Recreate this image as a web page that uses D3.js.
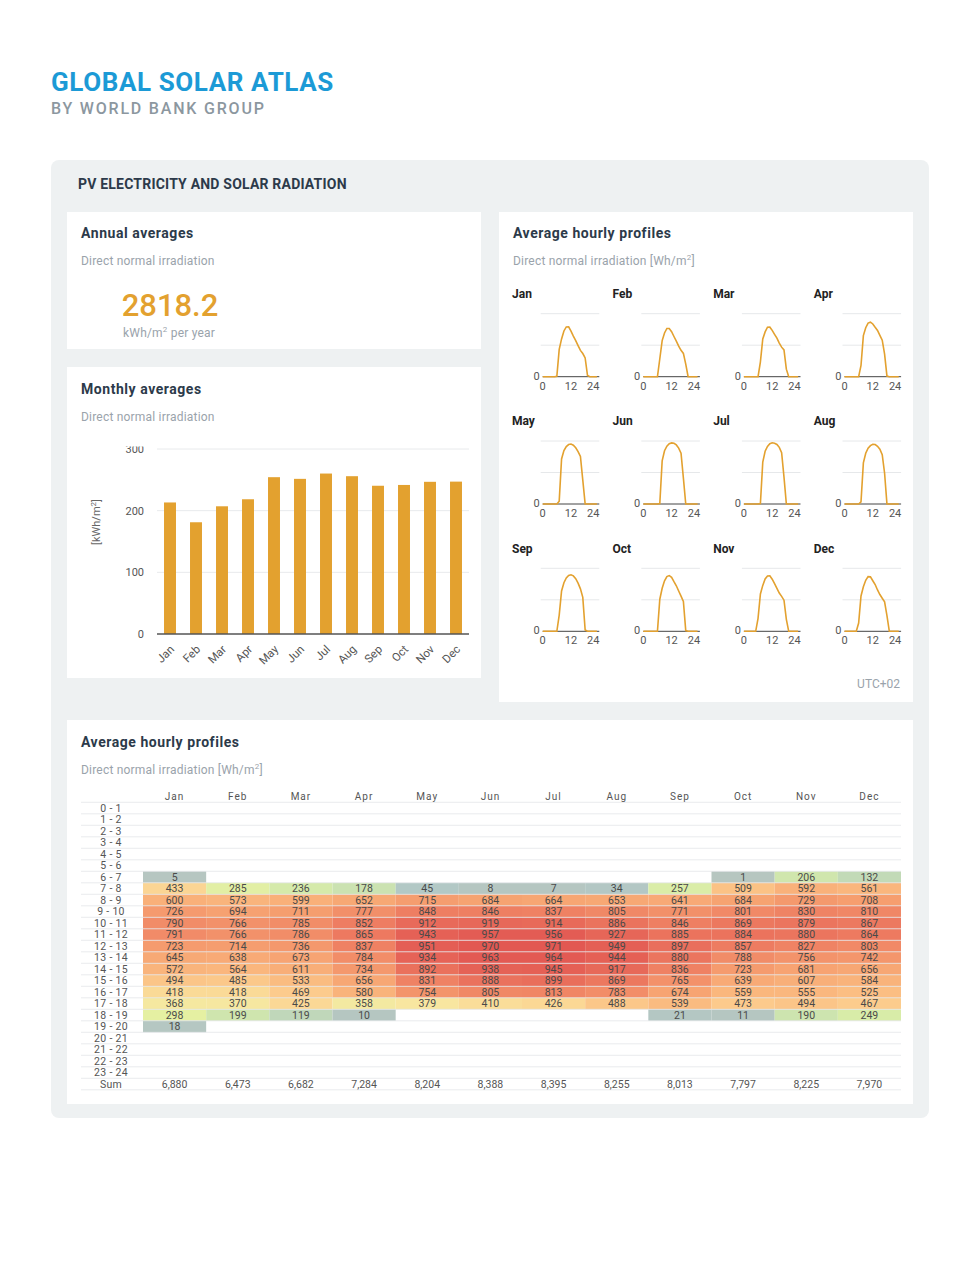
<!DOCTYPE html>
<html>
<head>
<meta charset="utf-8">
<script src="https://cdn.jsdelivr.net/npm/d3@7"></script>
<style>
  body { margin: 0; background: #fff; }
  text { font-family: Roboto, "Open Sans", sans-serif; }
</style>
</head>
<body>
<div id="page"></div>
<script>
var months = ["Jan", "Feb", "Mar", "Apr", "May", "Jun", "Jul", "Aug", "Sep", "Oct", "Nov", "Dec"];
var monthly = [213.3, 181.2, 207.1, 218.5, 254.3, 251.6, 260.2, 255.9, 240.4, 241.7, 246.8, 247.1];
var annualValue = "2818.2";
var monthlyTicks = [0, 100, 200, 300];
var hourLabels = ["0 - 1", "1 - 2", "2 - 3", "3 - 4", "4 - 5", "5 - 6", "6 - 7", "7 - 8", "8 - 9", "9 - 10",
    "10 - 11", "11 - 12", "12 - 13", "13 - 14", "14 - 15", "15 - 16", "16 - 17", "17 - 18", "18 - 19",
    "19 - 20", "20 - 21", "21 - 22", "22 - 23", "23 - 24"];
var profileTicks = [0, 12, 24];

// Wh/m2 per hour, null = no value
var n = null;
var hJan = [n, n, n, n, n, n, 5, 433, 600, 726, 790, 791, 723, 645, 572, 494, 418, 368, 298, 18, n, n, n, n];
var hFeb = [n, n, n, n, n, n, n, 285, 573, 694, 766, 766, 714, 638, 564, 485, 418, 370, 199, n, n, n, n, n];
var hMar = [n, n, n, n, n, n, n, 236, 599, 711, 785, 786, 736, 673, 611, 533, 469, 425, 119, n, n, n, n, n];
var hApr = [n, n, n, n, n, n, n, 178, 652, 777, 852, 865, 837, 784, 734, 656, 580, 358, 10, n, n, n, n, n];
var hMay = [n, n, n, n, n, n, n, 45, 715, 848, 912, 943, 951, 934, 892, 831, 754, 379, n, n, n, n, n, n];
var hJun = [n, n, n, n, n, n, n, 8, 684, 846, 919, 957, 970, 963, 938, 888, 805, 410, n, n, n, n, n, n];
var hJul = [n, n, n, n, n, n, n, 7, 664, 837, 914, 956, 971, 964, 945, 899, 813, 426, n, n, n, n, n, n];
var hAug = [n, n, n, n, n, n, n, 34, 653, 805, 886, 927, 949, 944, 917, 869, 783, 488, n, n, n, n, n, n];
var hSep = [n, n, n, n, n, n, n, 257, 641, 771, 846, 885, 897, 880, 836, 765, 674, 539, 21, n, n, n, n, n];
var hOct = [n, n, n, n, n, n, 1, 509, 684, 801, 869, 884, 857, 788, 723, 639, 559, 473, 11, n, n, n, n, n];
var hNov = [n, n, n, n, n, n, 206, 592, 729, 830, 879, 880, 827, 756, 681, 607, 555, 494, 190, n, n, n, n, n];
var hDec = [n, n, n, n, n, n, 132, 561, 708, 810, 867, 864, 803, 742, 656, 584, 525, 467, 249, n, n, n, n, n];
var hourly = [hJan, hFeb, hMar, hApr, hMay, hJun, hJul, hAug, hSep, hOct, hNov, hDec];
var daySums = [6880, 6473, 6682, 7284, 8204, 8388, 8395, 8255, 8013, 7797, 8225, 7970];

var orange = "#e3a12f";
var dark = "#2c3a4a";
var grey = "#9aa3ab";

var svg = d3.select("#page")
    .append("svg")
    .attr("width", 980)
    .attr("height", 1288);

// header
svg.append("text")
    .attr("x", 51).attr("y", 91)
    .style("font-size", "26px").style("font-weight", "700")
    .style("letter-spacing", "0.6px")
    .style("fill", "#1c9ad6")
    .text("GLOBAL SOLAR ATLAS");
svg.append("text")
    .attr("x", 51).attr("y", 114)
    .style("font-size", "16px").style("font-weight", "500")
    .style("letter-spacing", "1.8px")
    .style("fill", "#8c979f")
    .text("BY WORLD BANK GROUP");

// outer panel and cards
svg.append("rect")
    .attr("x", 51).attr("y", 160).attr("width", 878).attr("height", 958)
    .attr("rx", 8).style("fill", "#eef1f2");
svg.append("text")
    .attr("x", 78).attr("y", 189)
    .style("font-size", "14px").style("font-weight", "700")
    .style("letter-spacing", "0.2px")
    .style("fill", dark)
    .text("PV ELECTRICITY AND SOLAR RADIATION");

var cards = [
    [67, 212, 414, 137],
    [67, 367, 414, 311],
    [499, 212, 414, 490],
    [67, 720, 846, 384]
];
svg.selectAll(".card")
    .data(cards)
    .enter()
    .append("rect")
    .attr("class", "card")
    .attr("x", function (d) { return d[0]; })
    .attr("y", function (d) { return d[1]; })
    .attr("width", function (d) { return d[2]; })
    .attr("height", function (d) { return d[3]; })
    .style("fill", "#fff");

function cardTitle(x, y, title, sub) {
    svg.append("text")
        .attr("x", x).attr("y", y)
        .style("font-size", "14px").style("font-weight", "700")
        .style("letter-spacing", "0.55px")
        .style("fill", dark)
        .text(title);
    var s = svg.append("text")
        .attr("x", x).attr("y", y + 27)
        .style("font-size", "12px")
        .style("letter-spacing", "0.2px")
        .style("fill", grey);
    return s.text(sub);
}

// annual averages
cardTitle(81, 238, "Annual averages", "Direct normal irradiation");
svg.append("text")
    .attr("x", 170).attr("y", 316)
    .attr("text-anchor", "middle")
    .style("font-size", "31px").style("font-weight", "500")
    .style("fill", orange)
    .text(annualValue);
var unit = svg.append("text")
    .attr("x", 123).attr("y", 337)
    .style("font-size", "12px")
    .style("letter-spacing", "0.2px")
    .style("fill", grey);
unit.append("tspan").text("kWh/m");
unit.append("tspan").attr("dy", -5).style("font-size", "8px").text("2");
unit.append("tspan").attr("dy", 5).text(" per year");

// monthly averages
cardTitle(81, 394, "Monthly averages", "Direct normal irradiation");

var x_month = d3.scaleBand()
    .domain(months)
    .range([157, 469])
    .paddingInner(0.54)
    .paddingOuter(0.27);
var y_month = d3.scaleLinear()
    .domain([0, 300])
    .range([634, 449]);

svg.append("clipPath")
    .attr("id", "monthClip")
    .append("rect")
    .attr("x", 67).attr("y", 446.5).attr("width", 414).attr("height", 231);

var gMonth = svg.append("g").attr("clip-path", "url(#monthClip)");
gMonth.selectAll(".grid")
    .data(monthlyTicks.slice(1))
    .enter()
    .append("line")
    .attr("x1", 157).attr("x2", 469)
    .attr("y1", function (d) { return y_month(d); })
    .attr("y2", function (d) { return y_month(d); })
    .style("stroke", "#e8eaec");
gMonth.selectAll(".ytick")
    .data(monthlyTicks)
    .enter()
    .append("text")
    .attr("x", 144)
    .attr("y", function (d) { return y_month(d) + 4; })
    .attr("text-anchor", "end")
    .style("font-size", "11px").style("fill", "#555")
    .text(function (d) { return d; });
gMonth.selectAll(".bar")
    .data(monthly)
    .enter()
    .append("rect")
    .attr("x", function (d, i) { return x_month(months[i]); })
    .attr("width", x_month.bandwidth())
    .attr("y", function (d) { return y_month(d); })
    .attr("height", function (d) { return y_month(0) - y_month(d); })
    .style("fill", orange);
gMonth.append("line")
    .attr("x1", 157).attr("x2", 469)
    .attr("y1", y_month(0)).attr("y2", y_month(0))
    .style("stroke", "#555").style("stroke-width", 1.5);
gMonth.selectAll(".xlab")
    .data(months)
    .enter()
    .append("text")
    .attr("text-anchor", "end")
    .attr("transform", function (d) {
        return "translate(" + (x_month(d) + x_month.bandwidth() / 2 + 5) + ",650) rotate(-45)";
    })
    .style("font-size", "11.5px").style("fill", "#555")
    .text(function (d) { return d; });
var yl = gMonth.append("text")
    .attr("transform", "translate(100,522) rotate(-90)")
    .attr("text-anchor", "middle")
    .style("font-size", "11px").style("fill", "#666");
yl.append("tspan").text("[kWh/m");
yl.append("tspan").attr("dy", -4).style("font-size", "8px").text("2");
yl.append("tspan").attr("dy", 4).text("]");

// average hourly profiles, small multiples
var sub2 = cardTitle(513, 238, "Average hourly profiles", "");
sub2.append("tspan").text("Direct normal irradiation [Wh/m");
sub2.append("tspan").attr("dy", -5).style("font-size", "8px").text("2");
sub2.append("tspan").attr("dy", 5).text("]");

var x_prof = d3.scaleLinear().domain([0, 24]).range([0, 56.6]);
var y_prof = d3.scaleLinear().domain([0, 1000]).range([0, -63]);
var line_prof = d3.line()
    .x(function (d, i) { return x_prof(i); })
    .y(function (d) { return y_prof(d === null ? 0 : d); });

months.forEach(function (m, i) {
    var lx = 512 + (i % 4) * 100.6;
    var ly = 298 + Math.floor(i / 4) * 127.3;
    var g = svg.append("g").attr("transform", "translate(" + (lx + 30.7) + "," + (ly + 78.7) + ")");
    svg.append("text")
        .attr("x", lx).attr("y", ly)
        .style("font-size", "12px").style("font-weight", "700")
        .style("fill", "#222")
        .text(m);
    g.selectAll(".pg")
        .data([500, 1000])
        .enter()
        .append("line")
        .attr("x1", -2).attr("x2", x_prof(24))
        .attr("y1", function (d) { return y_prof(d); })
        .attr("y2", function (d) { return y_prof(d); })
        .style("stroke", "#e6e8ea");
    g.append("line")
        .attr("x1", 0).attr("x2", x_prof(24))
        .style("stroke", "#444");
    g.append("path")
        .datum(hourly[i])
        .attr("d", line_prof)
        .style("fill", "none")
        .style("stroke", orange)
        .style("stroke-width", 1.6);
    g.append("text")
        .attr("x", -3).attr("y", 3)
        .attr("text-anchor", "end")
        .style("font-size", "11px").style("fill", "#555")
        .text("0");
    g.selectAll(".pt")
        .data(profileTicks)
        .enter()
        .append("text")
        .attr("x", function (d) { return d === 24 ? x_prof(d) - 6 : x_prof(d); })
        .attr("y", 13)
        .attr("text-anchor", "middle")
        .style("font-size", "11px").style("fill", "#555")
        .text(function (d) { return d; });
});
svg.append("text")
    .attr("x", 900).attr("y", 688)
    .attr("text-anchor", "end")
    .style("font-size", "12px").style("fill", grey)
    .text("UTC+02");

// hourly table / heatmap
var sub3 = cardTitle(81, 747, "Average hourly profiles", "");
sub3.append("tspan").text("Direct normal irradiation [Wh/m");
sub3.append("tspan").attr("dy", -5).style("font-size", "8px").text("2");
sub3.append("tspan").attr("dy", 5).text("]");

var x_tab = d3.scaleBand().domain(months).range([143, 901]);
var rowNames = hourLabels.concat(["Sum"]);
var y_tab = d3.scaleBand().domain(rowNames).range([802.3, 802.3 + 11.5 * 25]);
var color = d3.scaleLinear()
    .domain([0, 50, 150, 250, 300, 380, 450, 550, 700, 850, 970])
    .range(["#b6c6c0", "#b2c8c6", "#c6deb4", "#d8eca8", "#e6f0a2", "#f8e6a0",
        "#fcd090", "#fab87e", "#f6a070", "#ee7e62", "#e25852"]);

var gTab = svg.append("g");
var cells = [];
hourly.forEach(function (arr, mi) {
    arr.forEach(function (v, hi) {
        if (v !== null) cells.push({ m: months[mi], h: hourLabels[hi], v: v });
    });
});
gTab.selectAll(".cell")
    .data(cells)
    .enter()
    .append("rect")
    .attr("x", function (d) { return x_tab(d.m); })
    .attr("y", function (d) { return y_tab(d.h); })
    .attr("width", x_tab.bandwidth())
    .attr("height", y_tab.bandwidth())
    .style("fill", function (d) { return color(d.v); });
gTab.selectAll(".rowline")
    .data(d3.range(26))
    .enter()
    .append("line")
    .attr("x1", 81).attr("x2", 901)
    .attr("y1", function (d) { return 802.3 + d * 11.5; })
    .attr("y2", function (d) { return 802.3 + d * 11.5; })
    .style("stroke", "#e4e6e8").style("stroke-width", 0.8);
gTab.selectAll(".cellText")
    .data(cells)
    .enter()
    .append("text")
    .attr("x", function (d) { return x_tab(d.m) + x_tab.bandwidth() / 2; })
    .attr("y", function (d) { return y_tab(d.h) + 9.3; })
    .attr("text-anchor", "middle")
    .style("font-size", "10.5px").style("fill", "#4a4a4a")
    .text(function (d) { return d.v; });
gTab.selectAll(".rowName")
    .data(rowNames)
    .enter()
    .append("text")
    .attr("x", 111)
    .attr("y", function (d) { return y_tab(d) + 9.3; })
    .attr("text-anchor", "middle")
    .style("font-size", "10.5px").style("letter-spacing", "0.3px").style("fill", "#555")
    .text(function (d) { return d; });
gTab.selectAll(".colName")
    .data(months)
    .enter()
    .append("text")
    .attr("x", function (d) { return x_tab(d) + x_tab.bandwidth() / 2; })
    .attr("y", 800)
    .attr("text-anchor", "middle")
    .style("font-size", "10px").style("letter-spacing", "1px").style("fill", "#555")
    .text(function (d) { return d; });
gTab.selectAll(".sum")
    .data(daySums)
    .enter()
    .append("text")
    .attr("x", function (d, i) { return x_tab(months[i]) + x_tab.bandwidth() / 2; })
    .attr("y", y_tab("Sum") + 9.3)
    .attr("text-anchor", "middle")
    .style("font-size", "10.5px").style("fill", "#555")
    .text(function (d) { return d3.format(",")(d); });
</script>
</body>
</html>
